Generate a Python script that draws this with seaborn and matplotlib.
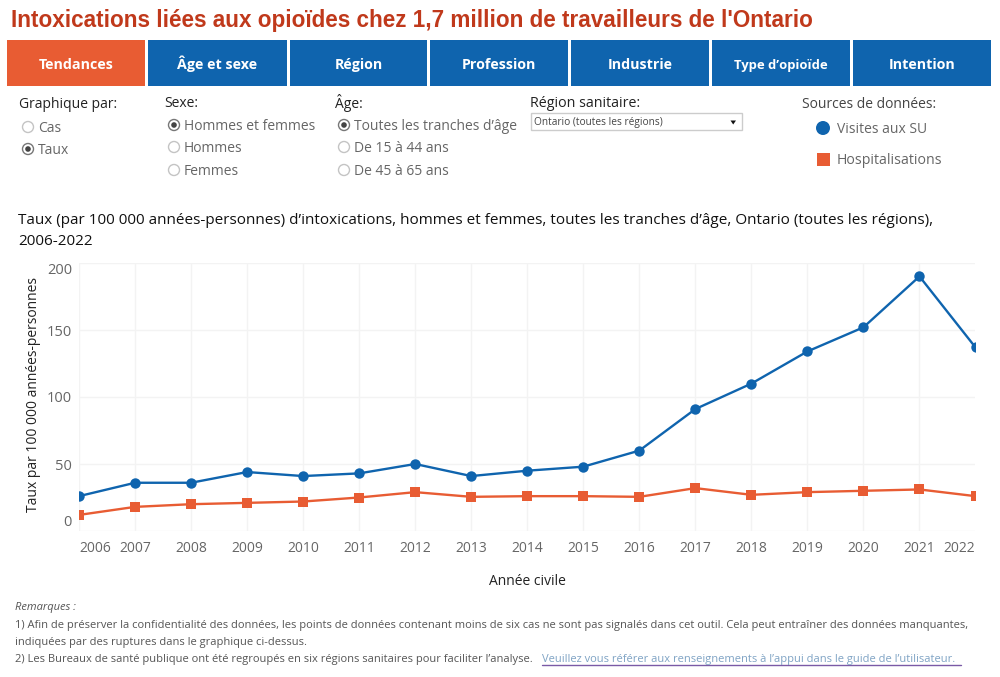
import pandas as pd
import matplotlib
matplotlib.use('Agg')
import matplotlib.pyplot as plt
import seaborn as sns
from matplotlib.patches import Rectangle, Circle, Polygon
from matplotlib.transforms import ScaledTranslation

years = list(range(2006, 2023))
visites_su = [26, 36, 36, 44, 41, 43, 50, 41, 45, 48, 60, 91, 110, 134, 152, 190, 137]
hospitalisations = [12, 18, 20, 21, 22, 25, 29, 25.5, 26, 26, 25.5, 32, 27, 29, 30, 31, 26]
y_ticks = [0, 50, 100, 150, 200]
tabs = ['Tendances', 'Âge et sexe', 'Région', 'Profession', 'Industrie', "Type d’opioïde", 'Intention']

BLUE = '#0f64ae'
ORANGE = '#e85c33'

sns.set_theme(style='whitegrid')
plt.rcParams['font.family'] = ['Open Sans', 'DejaVu Sans']

df = pd.DataFrame({
    'annee': years * 2,
    'taux': visites_su + hospitalisations,
    'source': ['Visites aux SU'] * len(years) + ['Hospitalisations'] * len(years),
})

fig = plt.figure(figsize=(10, 6.77), dpi=100, facecolor='white')

# overlay in pixel coordinates for the dashboard controls
ui = fig.add_axes([0, 0, 1, 1], zorder=0)
ui.set_xlim(0, 1000)
ui.set_ylim(677, 0)
ui.axis('off')


def txt(x, y, s, **kw):
    # Open Sans sits a bit high with va=center
    kw.setdefault('va', 'center')
    return ui.text(x, y + 1.8, s, **kw)


ui.text(11, 20.5, "Intoxications liées aux opioïdes chez 1,7 million de travailleurs de l'Ontario",
        family='Liberation Sans', weight='bold', fontsize=16.23, color='#c0391b', va='center')

tab_edges = [(7, 145), (148, 287), (290, 427), (430, 568), (571, 709), (712, 850), (853, 991)]
for i, (name, (x0, x1)) in enumerate(zip(tabs, tab_edges)):
    ui.add_patch(Rectangle((x0, 40), x1 - x0, 46, color=ORANGE if i == 0 else BLUE, lw=0))
    size = 9.4 if name.startswith('Type') else 10.3
    ui.text((x0 + x1) / 2, 69, name, color='white', weight='bold', fontsize=size, ha='center', va='baseline')


def radio(x, y, label, on=False):
    ui.add_patch(Circle((x, y), 5.5, fc='white', ec='#c4c4c4' if not on else '#777777', lw=1))
    if on:
        ui.add_patch(Circle((x, y), 2.8, fc='#444444', lw=0))
    txt(x + 10, y - 0.5, label, fontsize=10, color='#666666')


txt(19, 103, 'Graphique par:', fontsize=10, color='#222222')
radio(28, 127, 'Cas')
radio(28, 149, 'Taux', True)

txt(164, 101.5, 'Sexe:', fontsize=10, color='#222222')
radio(174, 125, 'Hommes et femmes', True)
radio(174, 147, 'Hommes')
radio(174, 170, 'Femmes')

txt(335, 101.5, 'Âge:', fontsize=10, color='#222222')
radio(344, 125, 'Toutes les tranches d’âge', True)
radio(344, 147, 'De 15 à 44 ans')
radio(344, 170, 'De 45 à 65 ans')

txt(530, 101.5, 'Région sanitaire:', fontsize=10.3, color='#222222')
ui.add_patch(Rectangle((531, 113), 211, 17, fc='white', ec='#cccccc', lw=1))
txt(534, 120.5, 'Ontario (toutes les régions)', fontsize=7.3, color='#444444')
ui.add_patch(Polygon([(730.5, 120.5), (736, 120.5), (733.2, 124.5)], color='#111111', lw=0))

txt(802, 103, 'Sources de données:', fontsize=10, color='#444444')
ui.add_patch(Circle((823, 128), 7, color=BLUE, lw=0))
txt(837, 127.5, 'Visites aux SU', fontsize=10, color='#666666')
ui.add_patch(Rectangle((817, 152.5), 13, 13, color=ORANGE, lw=0))
txt(837, 158.5, 'Hospitalisations', fontsize=10.2, color='#666666')

txt(18, 218.5, 'Taux (par 100 000 années-personnes) d’intoxications, hommes et femmes, toutes les tranches d’âge, Ontario (toutes les régions),',
    fontsize=10.97, color='#111111')
txt(18, 240, '2006-2022', fontsize=10.97, color='#111111')

txt(15, 606, 'Remarques :', fontsize=8.06, style='italic', color='#555555')
txt(15, 623.5, '1) Afin de préserver la confidentialité des données, les points de données contenant moins de six cas ne sont pas signalés dans cet outil. Cela peut entraîner des données manquantes,',
    fontsize=8.06, color='#555555')
txt(15, 640.5, 'indiquées par des ruptures dans le graphique ci-dessus.', fontsize=8.06, color='#555555')
txt(15, 658, '2) Les Bureaux de santé publique ont été regroupés en six régions sanitaires pour faciliter l’analyse.',
    fontsize=8.06, color='#555555')
txt(542, 658, 'Veuillez vous référer aux renseignements à l’appui dans le guide de l’utilisateur.',
    fontsize=8.06, color='#7fa3c4')
ui.plot([542, 961], [665, 665], color='#7a5aa6', lw=1)

# chart
ax = fig.add_axes([0.079, 1 - 531 / 677, 0.8965, 268 / 677], zorder=1)
ax.patch.set_alpha(0)
sns.lineplot(data=df, x='annee', y='taux', hue='source', style='source',
             hue_order=['Visites aux SU', 'Hospitalisations'], style_order=['Visites aux SU', 'Hospitalisations'],
             palette=[BLUE, ORANGE], markers=['o', 's'], dashes=False, markersize=7.5,
             markeredgewidth=0, linewidth=1.7, legend=False, ax=ax)
ax.set_xlim(2006, 2022)
ax.set_ylim(0, 200)
ax.set_xticks(years)
ax.set_yticks(y_ticks)
ax.grid(True, color='#f3f3f3', linewidth=1)
sns.despine(ax=ax, left=True, bottom=True)
ax.tick_params(axis='x', labelsize=10, labelcolor='#666666', length=0, pad=7)
ax.tick_params(axis='y', labelsize=10.5, labelcolor='#666666', length=0, pad=5)

x_labels = ax.get_xticklabels()
x_labels[0].set_ha('left')
x_labels[-1].set_ha('right')

# tick labels are pushed inside the plot at both ends, like the original
for lab, val in zip(ax.get_yticklabels(), y_ticks):
    dy = {0: 11, 50: 0, 100: 0, 150: 0, 200: -5}[val] / 72 * 0.72
    lab.set_transform(lab.get_transform() + ScaledTranslation(0, dy, fig.dpi_scale_trans))

ax.set_xlabel('Année civile', fontsize=10, color='#222222', labelpad=13)
ax.set_ylabel('Taux par 100 000 années-personnes', fontsize=10, color='#222222', labelpad=0)
ax.yaxis.set_label_coords(-38 / 897, 0.51)

plt.savefig('out.png', dpi=100, facecolor='white')
